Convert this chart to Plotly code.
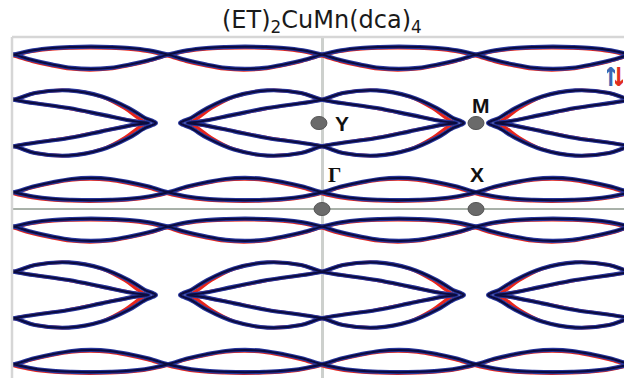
import plotly.graph_objects as go

# Visible window of reciprocal space (kx in pi/a, ky in pi/b)
x_range = [-2.013, 1.961]
y_range = [-1.965, 2.0]

# Open lens-chain sheets: centre line, and whether the deep arc points up
lens_centres = [1.795, 0.195, -0.205, -1.805]
lens_deep_up = [False, True, False, True]
# one lens between neighbouring crossings (fraction of the lens width)
lens_frac = [0, 0.125, 0.25, 0.375, 0.5, 0.625, 0.75, 0.875, 1.0]
deep_arc = [0, 0.066, 0.116, 0.154, 0.166, 0.154, 0.116, 0.066, 0]
flat_arc = [0, 0.050, 0.077, 0.088, 0.092, 0.088, 0.077, 0.050, 0]

# Large lens sheets around Y and M (half lens, measured from the crossing node)
big_centres = [1.0, -1.0]
big_nodes = [-2, 0, 2]
outer_du = [0, 0.136, 0.355, 0.571, 0.745, 0.851, 0.905, 0.922]
outer_dv = [0.271, 0.349, 0.379, 0.309, 0.174, 0.058, 0.020, 0.0]
inner_du = [0, 0.355, 0.571, 0.786, 0.875]
inner_dv = [0.271, 0.174, 0.097, 0.019, 0.0]
# spin-down sheets close a little further from the zone edge
outer_du_dn = [0, 0.136, 0.355, 0.571, 0.720, 0.800, 0.845, 0.855]
outer_dv_dn = [0.271, 0.349, 0.379, 0.305, 0.170, 0.065, 0.015, 0.0]
inner_du_dn = [0, 0.355, 0.571, 0.786, 0.855]
inner_dv_dn = [0.271, 0.172, 0.094, 0.020, 0.0]

# High-symmetry points
hs_names = ["Γ", "X", "Y", "M"]
hs_u = [0.0, 1.0, -0.02, 1.0]
hs_v = [0.0, 0.0, 1.0, 1.0]

title_text = "(ET)<sub>2</sub>CuMn(dca)<sub>4</sub>"
spin_labels = ["↑", "↓"]
spin_colors = ["#3a68b4", "#e0301e"]
spin_u = [1.877, 1.929]
spin_v = 1.535

UP_BLUE = "#26349a"
UP_CORE = "#0b0b3e"
DN_RED = "#e8261c"


def lens_curve(vc, deep_up, phase, su=0.0, sv=0.0):
    xs, ys = [], []
    for k in range(-3, 3):
        upper = (k + phase) % 2 == 0
        if upper:
            arc = deep_arc if deep_up else flat_arc
            sign = 1
        else:
            arc = flat_arc if deep_up else deep_arc
            sign = -1
        for j, (f, a) in enumerate(zip(lens_frac, arc)):
            if j == 0 and k > -3:
                continue
            xs.append(k + f + su)
            ys.append(vc + sign * a + sv)
    return xs, ys


def big_loop(u0, vc, odu, odv, idu, idv, mirror):
    s = -1 if mirror else 1
    xs, ys = [], []
    # upper node -> inner line to the tip -> back to lower node
    for du, dv in zip(idu, idv):
        xs.append(u0 + s * du); ys.append(vc + dv)
    for du, dv in list(zip(idu, idv))[-2::-1]:
        xs.append(u0 + s * du); ys.append(vc - dv)
    # lower node -> outer arc round the far tip -> upper node
    for du, dv in list(zip(odu, odv))[1:]:
        xs.append(u0 - s * du); ys.append(vc - dv)
    for du, dv in list(zip(odu, odv))[-2::-1]:
        xs.append(u0 - s * du); ys.append(vc + dv)
    return xs, ys


def sheets(odu, odv, idu, idv, su=0.0, sv=0.0):
    X, Y = [], []
    for vc, dup in zip(lens_centres, lens_deep_up):
        for ph in (0, 1):
            xs, ys = lens_curve(vc, dup, ph, su, sv)
            X += xs + [None]
            Y += ys + [None]
    for vc in big_centres:
        for u0 in big_nodes:
            for m in (False, True):
                xs, ys = big_loop(u0, vc, odu, odv, idu, idv, m)
                X += xs + [None]
                Y += ys + [None]
    return X, Y


fig = go.Figure()

xr, yr = sheets(outer_du_dn, outer_dv_dn, inner_du_dn, inner_dv_dn, su=-0.008, sv=-0.012)
fig.add_trace(go.Scatter(x=xr, y=yr, mode="lines", hoverinfo="skip",
                         line=dict(color=DN_RED, width=3.4, shape="spline", smoothing=1.0)))

xb, yb = sheets(outer_du, outer_dv, inner_du, inner_dv)
fig.add_trace(go.Scatter(x=xb, y=yb, mode="lines", hoverinfo="skip",
                         line=dict(color=UP_BLUE, width=4.2, shape="spline", smoothing=1.0)))
fig.add_trace(go.Scatter(x=xb, y=yb, mode="lines", hoverinfo="skip",
                         line=dict(color=UP_CORE, width=2.0, shape="spline", smoothing=1.0)))

shapes = [
    # frame edges
    dict(type="line", xref="paper", yref="paper", x0=0, x1=0, y0=0, y1=1,
         line=dict(color="#d6d6d6", width=2.5)),
    dict(type="line", xref="paper", yref="paper", x0=0, x1=1, y0=1, y1=1,
         line=dict(color="#d6d6d6", width=2.5)),
]
# high-symmetry point markers
rx, ry = 0.052, 0.076
for u, v in zip(hs_u, hs_v):
    shapes.append(dict(type="circle", xref="x", yref="y",
                       x0=u - rx, x1=u + rx, y0=v - ry, y1=v + ry,
                       fillcolor="#6a6a6a", line=dict(color="#555555", width=1)))

label_pos = {"Γ": (0.078, 0.40), "X": (1.005, 0.40), "Y": (0.128, 1.0), "M": (1.03, 1.20)}
annotations = []
for name in hs_names:
    lu, lv = label_pos[name]
    fam = "Liberation Serif" if name == "Γ" else "Liberation Sans"
    annotations.append(dict(x=lu, y=lv, xref="x", yref="y", text=f"<b>{name}</b>",
                            showarrow=False, xanchor="center", yanchor="middle",
                            font=dict(family=fam, size=21, color="#111111")))

annotations.append(dict(x=0, y=1, xref="x", yref="paper", text=title_text,
                        showarrow=False, xanchor="center", yanchor="bottom", yshift=-2,
                        font=dict(family="DejaVu Sans", size=24, color="#1a1a1a")))
# spin-channel key
for s, c, u in zip(spin_labels, spin_colors, spin_u):
    annotations.append(dict(x=u, y=spin_v, xref="x", yref="y", text=f"<b>{s}</b>",
                            showarrow=False, xanchor="center", yanchor="middle", width=8,
                            font=dict(family="DejaVu Sans", size=26, color=c)))

fig.update_layout(
    width=624, height=378,
    margin=dict(l=12, r=0, t=37, b=0),
    paper_bgcolor="white", plot_bgcolor="white",
    showlegend=False,
    shapes=shapes, annotations=annotations,
    xaxis=dict(range=x_range, showgrid=False, showticklabels=False, ticks="",
               zeroline=True, zerolinecolor="#cdd0cd", zerolinewidth=2.5, fixedrange=True),
    yaxis=dict(range=y_range, showgrid=False, showticklabels=False, ticks="",
               zeroline=True, zerolinecolor="#a9b1a9", zerolinewidth=2, fixedrange=True),
)

fig.write_html("out.html")
